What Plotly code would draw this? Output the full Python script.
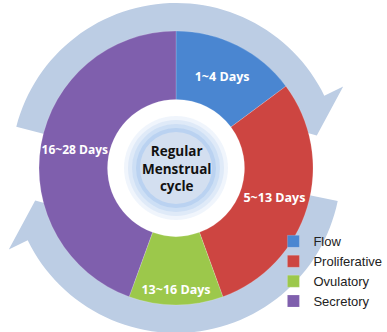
import numpy as np
import plotly.graph_objects as go

# ---- data ----
phases = ["Flow", "Proliferative", "Ovulatory", "Secretory"]
durations = [4, 8, 3, 12]
day_labels = ["1~4 Days", "5~13 Days", "13~16 Days", "16~28 Days"]
colors = ["#4a86d1", "#cd4541", "#9cc84b", "#7f5fad"]
center_title = "Regular<br>Menstrual<br>cycle"

W, H = 387, 332
CX, CY, R = 176, 168, 137

fig = go.Figure()

fig.add_trace(go.Pie(
    labels=phases, values=durations, text=day_labels,
    textinfo="text", textposition="inside",
    insidetextorientation="horizontal",
    textfont=dict(color="white", size=12.5, family="Open Sans", weight="bold"),
    marker=dict(colors=colors, line=dict(color="rgba(255,255,255,0.35)", width=0.5)),
    hole=0.5, sort=False, direction="clockwise", rotation=0,
    domain=dict(x=[(CX - R) / W, (CX + R) / W],
                y=[(H - CY - R) / H, (H - CY + R) / H]),
    hoverinfo="label+value",
))

# ---- decorative cycle arrows (pixel coords on hidden axes) ----
def pt(theta_deg, r):
    t = np.radians(theta_deg)
    return CX + r * np.sin(t), CY - r * np.cos(t)

def arrow_path(start, end, r_in=124, r_out=165, wing_in=104, wing_out=186, tip_extra=13):
    th = np.linspace(start, end, 60)
    outer = [pt(a, r_out) for a in th]
    inner = [pt(a, r_in) for a in th[::-1]]
    wo = pt(end, wing_out)
    tip = pt(end + tip_extra, (r_in + r_out) / 2)
    wi = pt(end, wing_in)
    pts = outer + [wo, tip, wi] + inner
    return "M " + " L ".join(f"{x:.1f},{y:.1f}" for x, y in pts) + " Z"

band = "#bccde4"
for s, e in [(284.5, 424), (101.5, 244)]:
    fig.add_shape(type="path", path=arrow_path(s, e), xref="x", yref="y",
                  fillcolor=band, line=dict(width=0), layer="below")

# ---- glowing centre ----
for r, a in [(52, 0.10), (48, 0.12), (44, 0.15), (40, 0.2)]:
    fig.add_shape(type="circle", xref="x", yref="y",
                  x0=CX - r, x1=CX + r, y0=CY - r, y1=CY + r,
                  fillcolor=f"rgba(110,160,225,{a})", line=dict(width=0), layer="above")
fig.add_shape(type="circle", xref="x", yref="y",
              x0=CX - 36, x1=CX + 36, y0=CY - 36, y1=CY + 36,
              fillcolor="#d3dff0", line=dict(width=0), layer="above")

fig.add_annotation(x=CX, y=CY, xref="x", yref="y", text=center_title,
                   showarrow=False, align="center",
                   font=dict(size=13.5, color="#111111", family="Open Sans", weight="bold"))

fig.update_layout(
    width=W, height=H, margin=dict(l=0, r=0, t=0, b=0, autoexpand=False),
    paper_bgcolor="white", plot_bgcolor="rgba(0,0,0,0)",
    xaxis=dict(range=[0, W], visible=False, fixedrange=True),
    yaxis=dict(range=[H, 0], visible=False, fixedrange=True),
    showlegend=True,
    legend=dict(x=0.7065, y=0.318, xanchor="left", yanchor="top",
                bgcolor="rgba(0,0,0,0)", itemwidth=30,
                font=dict(size=13, color="#222222", family="Liberation Sans")),
)

fig.write_html("out.html")
